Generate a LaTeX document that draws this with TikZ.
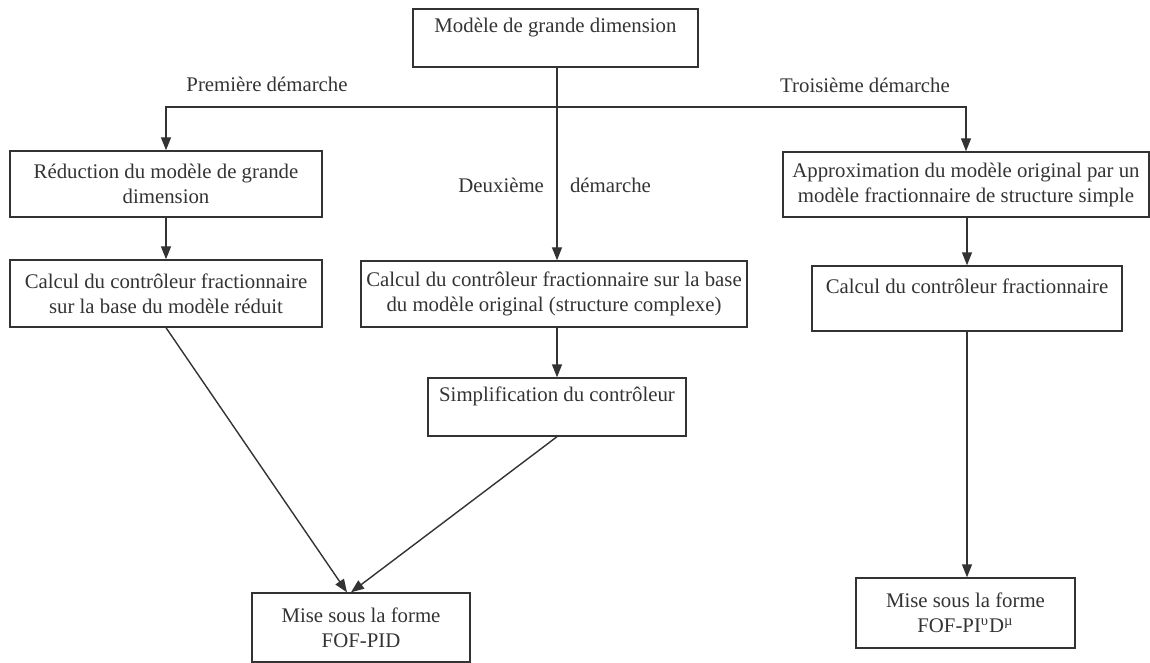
\documentclass[tikz,border=0pt]{standalone}
\usepackage{fontspec}
\setmainfont{Liberation Serif}
\usepackage{tikz}
\usetikzlibrary{arrows.meta}
\definecolor{ink}{HTML}{333333}

\begin{document}
\begin{tikzpicture}[
    x=0.5pt, y=-0.5pt,
    font=\fontsize{10.4}{12.5}\selectfont,
    every node/.style={text=ink},
    box/.style={rectangle, draw=ink, line width=0.7pt, inner sep=1pt, align=center},
    arrow/.style={-{Triangle[length=6.5pt,width=5pt]}, draw=ink, line width=0.7pt},
    line/.style={draw=ink, line width=0.7pt}
]
\useasboundingbox (0,0) rectangle (1150,663);

% Top model
\node[box, minimum width=142.5pt, minimum height=29pt] at (555.5,38) (big) {Mod\`ele de grande dimension\\ \mbox{}};
\coordinate (split) at (557,107);

% First approach
\node[box, minimum width=156pt, minimum height=33pt] at (166,184) (reduc) {R\'eduction du mod\`ele de grande\\dimension};
\node[box, minimum width=156pt, minimum height=33.5pt] at (166,293.5) (calcred) {Calcul du contr\^oleur fractionnaire\\sur la base du mod\`ele r\'eduit};

% Second approach
\node[box, minimum width=193pt, minimum height=33pt] at (554,294) (calcorig) {Calcul du contr\^oleur fractionnaire sur la base\\du mod\`ele original (structure complexe)};
\node[box, minimum width=129pt, minimum height=29pt] at (557,407) (simpl) {Simplification du contr\^oleur\\ \mbox{}};

% Third approach
\node[box, minimum width=183pt, minimum height=32.5pt] at (966,184.5) (approx) {Approximation du mod\`ele original par un\\mod\`ele fractionnaire de structure simple};
\node[box, minimum width=155pt, minimum height=32.5pt] at (967,298.5) (calcfrac) {Calcul du contr\^oleur fractionnaire\\ \mbox{}};

% Final forms
\node[box, minimum width=109pt, minimum height=34.5pt] at (361,627.5) (fofpid) {Mise sous la forme\\FOF-PID};
\node[box, minimum width=109.5pt, minimum height=35pt] at (965.5,613) (fofmu) {Mise sous la forme\\FOF-PI\textsuperscript{υ}D\textsuperscript{µ}};

% Approach labels
\node at (267,84) (lab1) {Premi\`ere d\'emarche};
\node[anchor=east] at (551,185) (lab2a) {Deuxi\`eme};
\node[anchor=west] at (563,185) (lab2b) {d\'emarche};
\node at (865,85) (lab3) {Troisi\`eme d\'emarche};

% Arrows
\draw[line] (big.south -| split) -- (split);
\draw[arrow] (split) -| (reduc.north);
\draw[arrow] (split) -| (approx.north);
\draw[arrow] (split) -- (split |- calcorig.north);
\draw[arrow] (reduc) -- (calcred);
\draw[arrow] (calcred.south) -- ([xshift=-7pt]fofpid.north);
\draw[arrow] (simpl.north |- calcorig.south) -- (simpl.north);
\draw[arrow] (simpl.south) -- ([xshift=-5pt]fofpid.north);
\draw[arrow] (calcfrac.north |- approx.south) -- (calcfrac.north);
\draw[arrow] (calcfrac.south) -- (calcfrac.south |- fofmu.north);

\end{tikzpicture}
\end{document}
